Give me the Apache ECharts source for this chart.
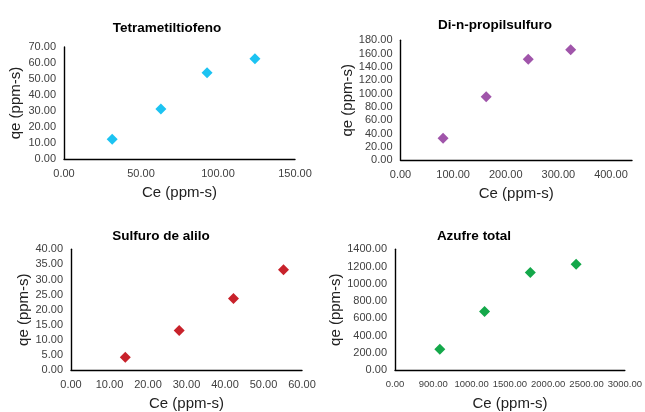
<!DOCTYPE html>
<html>
<head>
<meta charset="utf-8">
<script src="https://cdn.jsdelivr.net/npm/echarts@6/dist/echarts.min.js"></script>
<style>
  html, body { margin: 0; padding: 0; background: #fff; }
  #chart { width: 645px; height: 412px; }
</style>
</head>
<body>
<div id="chart"></div>
<script>
var titles = ['Tetrametiltiofeno', 'Di-n-propilsulfuro', 'Sulfuro de alilo', 'Azufre total'];
var ceTetra = [31.3, 62.9, 92.9, 124.0];
var qeTetra = [12.4, 31.2, 53.9, 62.6];
var ceDipro = [80.9, 162.9, 242.8, 323.5];
var qeDipro = [33.0, 95.4, 151.5, 165.9];
var ceAlilo = [14.1, 28.1, 42.2, 55.2];
var qeAlilo = [4.2, 13.1, 23.7, 33.2];
var ceTotal = [585, 1169, 1766, 2364];
var qeTotal = [242, 679, 1132, 1226];
// the last chart's x labels are printed like this in the source
var xLabelsTotal = ['0.00', '900.00', '1000.00', '1500.00', '2000.00', '2500.00', '3000.00'];
var colors = ['#1cc3f2', '#a055aa', '#c8222b', '#14a84a'];

function pairs(xs, ys) {
  return xs.map(function (x, i) { return [x, ys[i]]; });
}

var chart = echarts.init(document.getElementById('chart'));
var font = 'Liberation Sans, Arial, sans-serif';
var fix2 = function (v) { return v.toFixed(2); };

var grids = [
  { left: 64, right: 350, top: 47, bottom: 253 },
  { left: 400.5, right: 13, top: 40.3, bottom: 251.7 },
  { left: 71, right: 343, top: 249.3, bottom: 39.3 },
  { left: 395, right: 19, top: 249.3, bottom: 33.7 }
];
var xSpecs = [
  { max: 150, interval: 50 },
  { max: 440, interval: 100, hideMax: true },
  { max: 60, interval: 10 },
  { max: 3000, interval: 500, labels: xLabelsTotal, size: 9.5 }
];
var ySpecs = [
  { max: 70, interval: 10, gap: 41 },
  { max: 180, interval: 20, gap: 45 },
  { max: 40, interval: 5, gap: 39 },
  { max: 1400, interval: 200, gap: 41 }
];
var titlePos = [[162, 24], [490, 21], [156, 232], [469, 232]];
var data = [pairs(ceTetra, qeTetra), pairs(ceDipro, qeDipro), pairs(ceAlilo, qeAlilo), pairs(ceTotal, qeTotal)];

var axisLine = { show: true, lineStyle: { color: '#000', width: 1.4 } };
var nameStyle = { fontFamily: font, fontSize: 15, color: '#222' };

var option = {
  animation: false,
  title: titles.map(function (t, i) {
    return {
      text: t, left: titlePos[i][0], top: titlePos[i][1] - 8, textAlign: 'center',
      textStyle: { fontFamily: font, fontSize: 13.5, fontWeight: 'bold', color: '#000' }
    };
  }),
  grid: grids,
  xAxis: xSpecs.map(function (s, i) {
    return {
      type: 'value', gridIndex: i, min: 0, max: s.max, interval: s.interval,
      name: 'Ce (ppm-s)', nameLocation: 'middle', nameGap: 26, nameTextStyle: nameStyle,
      axisLine: axisLine, axisTick: { show: false }, splitLine: { show: false },
      axisLabel: {
        fontFamily: font, fontSize: s.size || 11, color: '#404040', margin: 9,
        showMaxLabel: !s.hideMax,
        formatter: s.labels ? function (v) { return s.labels[Math.round(v / s.interval)]; } : fix2
      }
    };
  }),
  yAxis: ySpecs.map(function (s, i) {
    return {
      type: 'value', gridIndex: i, min: 0, max: s.max, interval: s.interval,
      name: 'qe (ppm-s)', nameLocation: 'middle', nameGap: s.gap, nameTextStyle: nameStyle,
      axisLine: axisLine, axisTick: { show: false }, splitLine: { show: false },
      axisLabel: { fontFamily: font, fontSize: 11, color: '#404040', margin: 8, formatter: fix2 }
    };
  }),
  series: data.map(function (d, i) {
    return {
      type: 'scatter', xAxisIndex: i, yAxisIndex: i, data: d,
      symbol: 'diamond', symbolSize: 11, itemStyle: { color: colors[i], opacity: 1 }
    };
  })
};
chart.setOption(option);
</script>
</body>
</html>
